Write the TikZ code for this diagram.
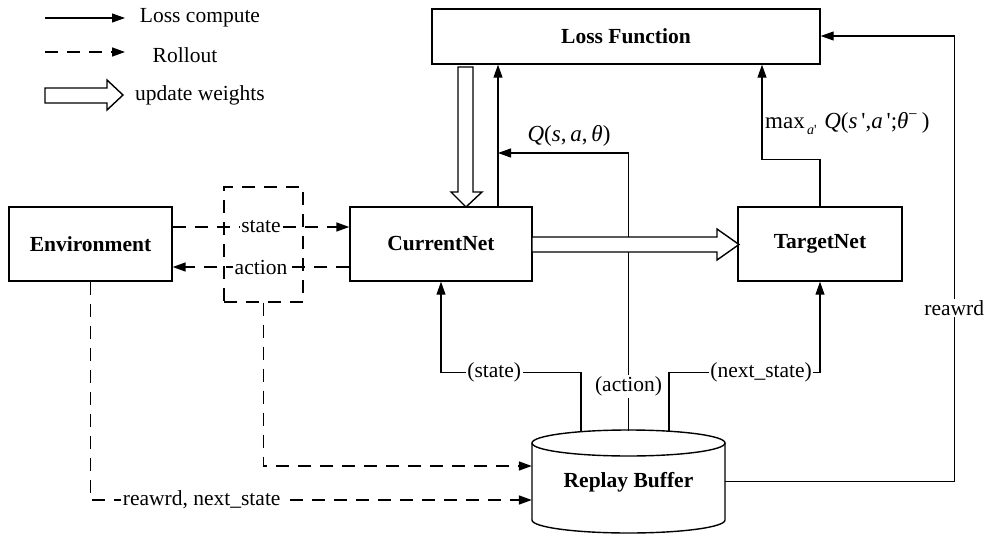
\documentclass[tikz,border=0pt]{standalone}
\usepackage{fontspec}
\setmainfont{Liberation Serif}
\usetikzlibrary{arrows.meta,calc}
\begin{document}
\begin{tikzpicture}[x=1pt,y=-1pt,
  font=\fontsize{21.5}{25}\selectfont,
  box/.style={draw, line width=1.4pt, minimum height=74pt, font=\fontsize{21.5}{25}\selectfont\bfseries},
  lbl/.style={fill=white, inner sep=1.5pt},
  sol/.style={line width=1.1pt, -{Triangle[length=13pt,width=9pt]}},
  roll/.style={line width=1.6pt, dash pattern=on 13pt off 9pt, -{Triangle[length=13pt,width=9pt]}},
  hol/.style={draw, fill=white, line width=1.4pt, line join=miter},
  cyl/.style={draw, fill=white, line width=1.4pt}]
\useasboundingbox (0,0) rectangle (985,535);

% cylinder (replay buffer)
\filldraw[cyl] (532,443) -- (532,520) .. controls (532,527.18) and (575.2,533) .. (628.5,533)
  .. controls (681.8,533) and (725,527.18) .. (725,520) -- (725,443);
\filldraw[cyl] (628.5,443) ellipse [x radius=96.5, y radius=13];

% nodes
\node[box, minimum width=163pt] (env) at (90.5,244) {Environment};
\node[box, minimum width=182pt] (cur) at (441,244) {CurrentNet};
\node[box, minimum width=164pt] (tgt) at (820,244) {TargetNet};
\node[box, minimum width=388pt, minimum height=55pt] (loss) at (626,36.5) {Loss Function};
\node[minimum width=193pt, minimum height=102pt, font=\fontsize{21.5}{25}\selectfont\bfseries] (rb) at (628.5,482) {Replay Buffer};
\node[draw, line width=1.4pt, dash pattern=on 13pt off 9pt, minimum width=79pt, minimum height=115pt] (gate) at (263.5,244.5) {};

% legend
\node (lg1) at (200,18) {Loss compute};
\node (lg2) at (185,55) {Rollout};
\node (lg3) at (200,95) {update weights};
\coordinate (l1a) at (45,18);
\coordinate (l1b) at (125,18);
\coordinate (l2a) at (45,52);
\coordinate (l2b) at (125,52);
\draw[sol] (l1a) -- (l1b);
\draw[roll] (l2a) -- (l2b);
\draw[hol] (45,88) -- (107,88) -- (107,80) -- (123,95) -- (107,110) -- (107,103) -- (45,103) -- cycle;

% rollout connectors
\draw[roll] ([yshift=17pt]env.east) -- node[lbl]{state} ([yshift=17pt]cur.west);
\draw[roll] ([yshift=-23pt]cur.west) -- node[lbl]{action} ([yshift=-23pt]env.east);
\draw[roll] (gate.south) |- ([yshift=16pt]rb.west);
\draw[roll] (env.south) |- node[lbl, pos=0.626]{reawrd, next\_state} ([yshift=-18pt]rb.west);

% loss-compute connectors
\coordinate (qj) at (498,153);
\draw[sol] ([xshift=57pt]cur.north) -- ([xshift=57pt]cur.north |- loss.south);
\draw[sol] ([xshift=-47.5pt]rb.north) -- ++(0,-58) -| node[lbl, pos=0.31]{(state)} (cur.south);
\draw[sol] ([xshift=40.5pt]rb.north) -- ++(0,-58) -| node[lbl, pos=0.305]{(next\_state)} (tgt.south);
\draw[sol] (rb.north) |- node[lbl, pos=0.08]{(action)} (qj);
\draw[sol] (tgt.north) -- ++(0,-47) -| ([xshift=136pt]loss.south);
\draw[sol] ([yshift=0.5pt]rb.east) -- ++(229,0) |- node[lbl, pos=0.195]{reawrd} ([yshift=0.5pt]loss.east);

% formula labels
\node[font=\fontsize{23}{26}\selectfont] (ql) at (569,136) {\textit{Q}(\textit{s},\,\textit{a},\,\textit{θ})};
\node[anchor=west, inner sep=1pt, font=\fontsize{23}{26}\selectfont] (ml) at (764,124) {max\raisebox{-6pt}{\fontsize{14}{14}\selectfont\,\textit{a}\textquotesingle}\,\,\textit{Q}(\textit{s}\,\textquotesingle,\textit{a}\,\textquotesingle;\textit{θ}\textsuperscript{−}\,)};

% update-weight arrows
\draw[hol] (458,67) -- (473,67) -- (473,192) -- (482,192) -- (466,207) -- (451,192) -- (458,192) -- cycle;
\draw[hol] (532,237) -- (717,237) -- (717,229) -- (739,244.5) -- (717,260) -- (717,252) -- (532,252) -- cycle;
\end{tikzpicture}
\end{document}
